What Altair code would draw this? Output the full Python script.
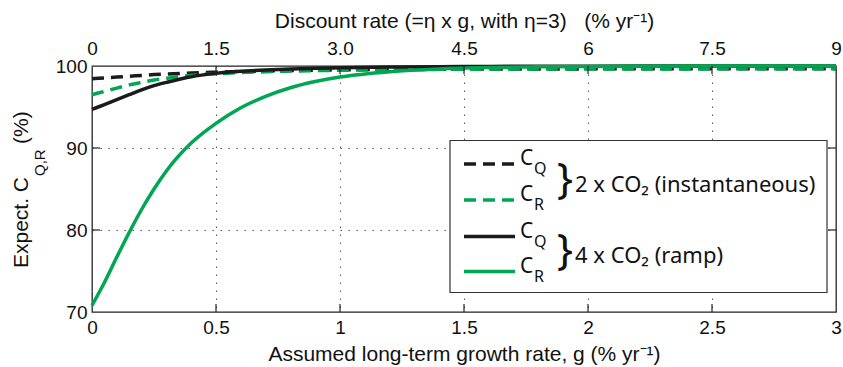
import altair as alt
import pandas as pd

# Assumed long-term growth rate g (% per year)
g = [0, 0.05, 0.1, 0.15, 0.2, 0.25, 0.3, 0.4, 0.5, 0.6, 0.7, 0.8, 0.9, 1.0,
     1.2, 1.4, 1.6, 1.8, 2.0, 2.5, 3.0]

# Expected C_Q and C_R (%) for the two forcing scenarios
cq_2x = [98.45, 98.55, 98.65, 98.75, 98.85, 98.95, 99.02, 99.15, 99.25, 99.33,
         99.40, 99.45, 99.50, 99.53, 99.58, 99.61, 99.63, 99.64, 99.65, 99.66, 99.67]
cr_2x = [96.5, 96.9, 97.3, 97.7, 98.0, 98.3, 98.5, 98.85, 99.05, 99.2,
         99.3, 99.38, 99.44, 99.48, 99.55, 99.59, 99.62, 99.63, 99.64, 99.65, 99.66]
cq_4x = [94.7, 95.3, 95.9, 96.5, 97.1, 97.6, 98.0, 98.7, 99.1, 99.35,
         99.52, 99.64, 99.72, 99.78, 99.87, 99.92, 99.95, 99.97, 99.98, 99.99, 100.0]
cr_4x = [70.8, 73.6, 76.7, 79.7, 82.5, 85.0, 87.2, 90.6, 93.0, 94.9,
         96.3, 97.35, 98.1, 98.65, 99.3, 99.64, 99.81, 99.9, 99.95, 99.99, 100.0]

x_ticks = [0, 0.5, 1, 1.5, 2, 2.5, 3]
inner_x_ticks = [0.5, 1, 1.5, 2, 2.5]
y_ticks = [70, 80, 90, 100]
inner_y_ticks = [80, 90]

GREEN = "#00a651"
BLACK = "#1b1b1b"
FONT = "Liberation Sans"
LEG_FONT = "Noto Sans"
W, H = 744, 246

df = pd.DataFrame({"g": g, "cq2": cq_2x, "cr2": cr_2x, "cq4": cq_4x, "cr4": cr_4x})

xs = alt.Scale(domain=[0, 3], nice=False, zero=False)
ys = alt.Scale(domain=[70, 100], nice=False, zero=False)

grid_style = dict(grid=True, gridColor="#555", gridDash=[1.5, 6.5], gridWidth=1)

bottom_axis = alt.Axis(
    values=x_ticks, labelExpr="'' + datum.value", title="Assumed long-term growth rate, g (% yr⁻¹)",
    ticks=False, domain=False, labelFlush=False, labelPadding=6, titlePadding=6,
    **grid_style,
)
left_axis = alt.Axis(
    values=y_ticks, title=None, ticks=False, domain=False, labelFlush=False,
    labelPadding=5, **grid_style,
)
top_axis = alt.Axis(
    orient="top", values=x_ticks,
    labelExpr="datum.value == 1 ? '3.0' : '' + (datum.value * 3)",
    title="Discount rate (=η x g, with η=3)\u00a0\u00a0\u00a0(% yr⁻¹)",
    ticks=False, domain=False, grid=False, labelFlush=False, labelPadding=8, titlePadding=8,
)

base = alt.Chart(df)


def series(field, color, dash, with_axes=False):
    enc = dict(
        x=alt.X("g:Q", scale=xs, axis=bottom_axis if with_axes else None),
        y=alt.Y(f"{field}:Q", scale=ys, axis=left_axis if with_axes else None),
    )
    mark = dict(color=color, strokeWidth=3.5, interpolate="monotone")
    if dash:
        mark["strokeDash"] = [12, 7]
    return base.mark_line(**mark).encode(**enc)


lines = [
    series("cq2", BLACK, True, with_axes=True),
    series("cr2", GREEN, True),
    series("cq4", BLACK, False),
    series("cr4", GREEN, False),
]

# Inward ticks on all four sides
xt = alt.Chart(pd.DataFrame({"g": inner_x_ticks}))
yt = alt.Chart(pd.DataFrame({"v": inner_y_ticks}))
tick_style = dict(color="#222", strokeWidth=1.2)
ticks = [
    xt.mark_rule(**tick_style).encode(x=alt.X("g:Q", scale=xs, axis=None),
                                      y=alt.value(H), y2=alt.value(H - 8)),
    xt.mark_rule(**tick_style).encode(x=alt.X("g:Q", scale=xs, axis=top_axis),
                                      y=alt.value(0), y2=alt.value(8)),
    yt.mark_rule(**tick_style).encode(y=alt.Y("v:Q", scale=ys, axis=None),
                                      x=alt.value(0), x2=alt.value(8)),
    yt.mark_rule(**tick_style).encode(y=alt.Y("v:Q", scale=ys, axis=None),
                                      x=alt.value(W), x2=alt.value(W - 8)),
]

one = alt.Chart(pd.DataFrame({"k": [0]}))


def label(text, x, y, size, font=FONT, angle=None, align="left", baseline="alphabetic"):
    kw = dict(font=font, fontSize=size, align=align, baseline=baseline, color="#111")
    if angle is not None:
        kw["angle"] = angle
    return one.mark_text(**kw).encode(x=alt.value(x), y=alt.value(y), text=alt.value(text))


# Rotated y-axis title with subscript
ytitle = [
    label("Expect. C", -64, 111, 21, angle=270, align="right"),
    label("Q,R", -47, 110, 15, angle=270, align="left"),
    label("(%)", -64, 78, 21, angle=270, align="left"),
]

# Legend: box, line samples, C_Q / C_R labels, braces and scenario names
leg_sub = ["Q", "R", "Q", "R"]
leg_color = [BLACK, GREEN, BLACK, GREEN]
leg_dashed = [True, True, False, False]
leg_rows = [98, 134, 170.5, 205.5]
leg_groups = ["2 x CO₂ (instantaneous)", "4 x CO₂ (ramp)"]
group_rows = [126, 197]

legend = [
    one.mark_rect(fill="white", stroke="#333", strokeWidth=1.2).encode(
        x=alt.value(358), x2=alt.value(735), y=alt.value(74.5), y2=alt.value(226.5))
]
for sub, col, dashed, yy in zip(leg_sub, leg_color, leg_dashed, leg_rows):
    mk = dict(color=col, strokeWidth=3.5)
    if dashed:
        mk["strokeDash"] = [12, 7]
    legend.append(one.mark_rule(**mk).encode(x=alt.value(372), x2=alt.value(423), y=alt.value(yy)))
    legend.append(label("C", 428, yy + 1, 21, font=LEG_FONT))
    legend.append(label(sub, 442, yy + 10, 16, font=LEG_FONT))
for txt, yy in zip(leg_groups, group_rows):
    legend.append(label("}", 465, yy + 1, 42, font=LEG_FONT))
    legend.append(label(txt, 483, yy, 22, font=LEG_FONT))

chart = alt.layer(*lines, *ticks, *ytitle, *legend).resolve_axis(
    x="independent", y="independent"
).properties(
    width=W, height=H,
    autosize=alt.AutoSizeParams(type="none"),
    padding={"left": 92, "top": 66, "right": 7, "bottom": 55},
).configure_view(
    stroke="#222", strokeWidth=1.3
).configure_axis(
    labelFont=FONT, titleFont=FONT, labelFontSize=19, titleFontSize=21,
    labelColor="#111", titleColor="#111", titleFontWeight="normal",
)

chart.save("out.html", embed_options={"renderer": "svg", "actions": False})
